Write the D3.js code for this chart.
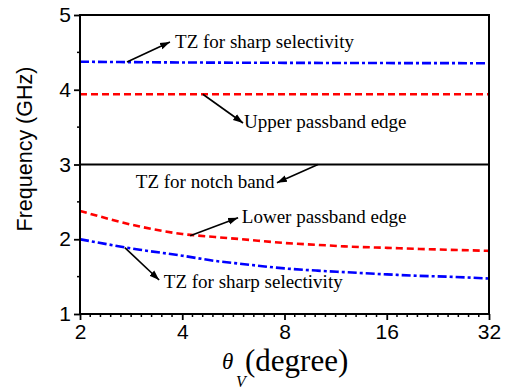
<!DOCTYPE html>
<html>
<head>
<meta charset="utf-8">
<script src="https://cdn.jsdelivr.net/npm/d3@7"></script>
<style>
  body { margin: 0; background: #fff; }
  svg { display: block; }
  .sans { font-family: 'Liberation Sans', Arial, sans-serif; }
  .serif { font-family: 'Liberation Serif', 'Times New Roman', serif; }
</style>
</head>
<body>
<div id="chart"></div>
<script>
// theta_V (degree) sample points
const thetaUpper = [2, 4, 8, 16, 32];
const tzUpper = [4.375, 4.365, 4.36, 4.357, 4.355];
const upperEdge = [3.94, 3.94, 3.94, 3.94, 3.94];
const notch = [3.0, 3.0, 3.0, 3.0, 3.0];

const thetaLower = [2, 3, 4, 5, 6, 8, 10, 12, 16, 20, 24, 32];
const lowerEdge = [2.38, 2.17, 2.07, 2.03, 2.0, 1.95, 1.925, 1.905, 1.885, 1.87, 1.86, 1.845];
const tzLower = [2.0, 1.86, 1.78, 1.71, 1.67, 1.61, 1.58, 1.56, 1.53, 1.51, 1.5, 1.475];

const xTicks = [2, 4, 8, 16, 32];
const yTicks = [1, 2, 3, 4, 5];

// annotation text + arrow (tail on curve, head near text), in data units
const notes = [
  { text: 'TZ for sharp selectivity', tx: 3.81, ty: 4.56, from: [2.75, 4.37], to: [3.68, 4.64] },
  { text: 'Upper passband edge', tx: 6.08, ty: 3.49, from: [4.6, 3.94], to: [6.04, 3.555] },
  { text: 'TZ for notch band', tx: 2.92, ty: 2.686, from: [10.04, 3.0], to: [7.6, 2.757] },
  { text: 'Lower passband edge', tx: 5.99, ty: 2.217, from: [4.22, 2.047], to: [5.84, 2.288] },
  { text: 'TZ for sharp selectivity', tx: 3.53, ty: 1.348, from: [2.71, 1.887], to: [3.42, 1.455] }
];

const W = 511, H = 390;
const margin = { top: 15, right: 22, bottom: 76, left: 80 };
const width = W - margin.left - margin.right;
const height = H - margin.top - margin.bottom;

const svg = d3.select('#chart').append('svg')
  .attr('width', W)
  .attr('height', H);

svg.append('defs').append('marker')
  .attr('id', 'arrow')
  .attr('viewBox', '0 0 10 10')
  .attr('refX', 10)
  .attr('refY', 5)
  .attr('markerWidth', 10)
  .attr('markerHeight', 10)
  .attr('markerUnits', 'userSpaceOnUse')
  .attr('orient', 'auto')
  .append('path')
  .attr('d', 'M0,1.5 L10,5 L0,8.5 Z')
  .attr('fill', '#000');

const g = svg.append('g')
  .attr('transform', `translate(${margin.left},${margin.top})`);

const x = d3.scaleLog().base(2).domain([2, 32]).range([0, width]);
const y = d3.scaleLinear().domain([1, 5]).range([height, 0]);

const line = d3.line()
  .x(d => x(d[0]))
  .y(d => y(d[1]))
  .curve(d3.curveMonotoneX);

const series = [
  { xs: thetaUpper, ys: tzUpper, color: '#0000ff', dash: '9,3,3,3', w: 2.6 },
  { xs: thetaUpper, ys: upperEdge, color: '#ff0000', dash: '7,4', w: 2.6 },
  { xs: thetaUpper, ys: notch, color: '#000000', dash: null, w: 2 },
  { xs: thetaLower, ys: lowerEdge, color: '#ff0000', dash: '7,4', w: 2.6 },
  { xs: thetaLower, ys: tzLower, color: '#0000ff', dash: '9,3,3,3', w: 2.6 }
];

series.forEach(s => {
  g.append('path')
    .datum(s.xs.map((t, i) => [t, s.ys[i]]))
    .attr('d', line)
    .attr('fill', 'none')
    .attr('stroke', s.color)
    .attr('stroke-width', s.w)
    .attr('stroke-dasharray', s.dash);
});

// axes
const xAxis = d3.axisBottom(x)
  .tickValues(xTicks)
  .tickFormat(d3.format('d'))
  .tickSizeInner(6)
  .tickSizeOuter(0)
  .tickPadding(4);
const gx = g.append('g')
  .attr('transform', `translate(0,${height})`)
  .call(xAxis);

const minorX = [];
for (let o = 1; o < 5; o++) {
  for (let k = 1; k < 10; k++) minorX.push(Math.pow(2, o + k / 10));
}
g.append('g')
  .attr('transform', `translate(0,${height})`)
  .selectAll('line')
  .data(minorX)
  .enter().append('line')
  .attr('x1', d => x(d))
  .attr('x2', d => x(d))
  .attr('y1', 0)
  .attr('y2', 3)
  .attr('stroke', '#000')
  .attr('stroke-width', 1.5);

const yAxis = d3.axisLeft(y)
  .tickValues(yTicks)
  .tickFormat(d3.format('d'))
  .tickSizeInner(6)
  .tickSizeOuter(0)
  .tickPadding(3);
const gy = g.append('g').call(yAxis);

g.append('g')
  .selectAll('line')
  .data([1.5, 2.5, 3.5, 4.5])
  .enter().append('line')
  .attr('x1', 0)
  .attr('x2', -3)
  .attr('y1', d => y(d))
  .attr('y2', d => y(d))
  .attr('stroke', '#000')
  .attr('stroke-width', 1.5);

[gx, gy].forEach(a => {
  a.attr('font-family', null).attr('font-size', null);
  a.select('.domain').remove();
  a.selectAll('.tick line').attr('stroke', '#000').attr('stroke-width', 1.8);
  a.selectAll('.tick text')
    .attr('class', 'sans')
    .attr('fill', '#000')
    .attr('font-size', 21);
});

g.append('rect')
  .attr('x', 0)
  .attr('y', 0)
  .attr('width', width)
  .attr('height', height)
  .attr('fill', 'none')
  .attr('stroke', '#000')
  .attr('stroke-width', 2);

// annotations
notes.forEach(n => {
  g.append('line')
    .attr('x1', x(n.from[0]))
    .attr('y1', y(n.from[1]))
    .attr('x2', x(n.to[0]))
    .attr('y2', y(n.to[1]))
    .attr('stroke', '#000')
    .attr('stroke-width', 1.6)
    .attr('marker-end', 'url(#arrow)');
  g.append('text')
    .attr('class', 'serif')
    .attr('x', x(n.tx))
    .attr('y', y(n.ty))
    .attr('fill', '#000')
    .attr('font-size', 19)
    .text(n.text);
});

// axis titles
svg.append('text')
  .attr('class', 'sans')
  .attr('transform', 'translate(32,149) rotate(-90)')
  .attr('text-anchor', 'middle')
  .attr('font-size', 21.5)
  .text('Frequency (GHz)');

svg.append('text')
  .attr('class', 'serif')
  .attr('x', 222)
  .attr('y', 369)
  .attr('font-size', 23)
  .attr('font-style', 'italic')
  .text('θ');
svg.append('text')
  .attr('class', 'serif')
  .attr('x', 236)
  .attr('y', 387)
  .attr('font-size', 16)
  .attr('font-style', 'italic')
  .text('V');
svg.append('text')
  .attr('class', 'serif')
  .attr('x', 245)
  .attr('y', 371)
  .attr('font-size', 31)
  .text('(degree)');
</script>
</body>
</html>
